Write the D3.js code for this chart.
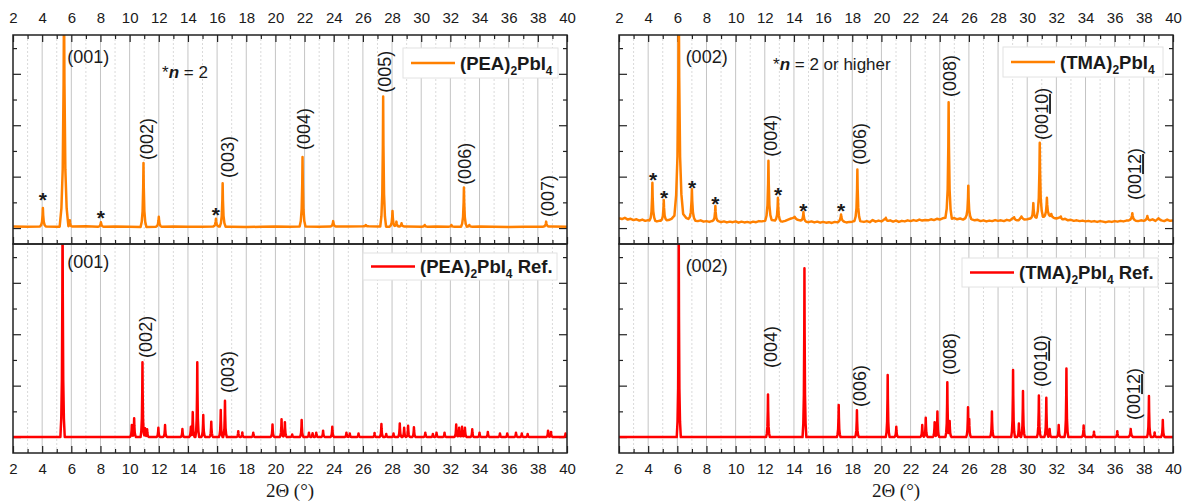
<!DOCTYPE html>
<html>
<head>
<meta charset="utf-8">
<script src="https://cdn.jsdelivr.net/npm/d3@7"></script>
<style>
body { margin: 0; background: #fff; }
svg text { font-family: Arial, "Liberation Sans", sans-serif; fill: #1a1a1a; }
svg text.serif { font-family: "Liberation Serif", "Times New Roman", serif; }
</style>
</head>
<body>
<svg id="chart" width="1185" height="501"></svg>
<script>
// peaks: [2theta, intensity (a.u.), optional half-width in 2theta]
var peaPeaks = [[4.05,0.78],[5.5,9,0.3],[5.9,0.3,0.15],[8.03,0.23],[10.95,2.53],[12.0,0.44],[15.92,0.36],
  [16.38,1.74],[21.86,2.76],[23.96,0.27],[26.2,0.12],[27.39,5.12],[28.03,0.66],[28.3,0.25],[28.65,0.19],
  [30.24,0.12],[32.07,0.12],[32.93,1.58],[33.3,0.12],[38.57,0.25]];
// baseline every 1 deg from 2 to 40
var peaBase = [0.06,0.05,0.06,0.05,0.06,0.07,0.05,0.06,0.05,0.04,0.05,0.06,0.05,0.05,0.06,0.05,0.04,0.05,0.06,0.05,
  0.06,0.05,0.06,0.06,0.07,0.06,0.05,0.06,0.05,0.06,0.05,0.05,0.06,0.05,0.04,0.05,0.05,0.06,0.05];

var peaRefPeaks = [[5.40,9,0.15],[10.15,0.47],[10.31,0.73],[10.88,2.91],[11.06,0.34],[11.2,0.3],[11.97,0.36],
  [12.43,0.47],[13.62,0.31],[14.2,0.4],[14.33,0.97],[14.64,2.91],[15.05,0.86],[15.6,0.6],[16.25,1.05],
  [16.54,1.41],[17.45,0.23],[17.73,0.18],[18.48,0.17],[19.8,0.49],[20.42,0.69],[20.65,0.58],[21.15,0.1],
  [21.8,0.66],[22.3,0.17],[22.55,0.15],[22.8,0.17],[23.27,0.25],[23.9,0.4],[24.87,0.17],[25.1,0.14],
  [25.7,0.14],[26.8,0.16],[27.27,0.51],[27.6,0.12],[28.1,0.14],[28.53,0.53],[28.83,0.36],[29.1,0.44],
  [29.5,0.38],[30.28,0.17],[30.8,0.12],[31.05,0.17],[31.6,0.17],[32.4,0.49],[32.6,0.36],[32.8,0.4],
  [33.0,0.36],[33.5,0.3],[34.0,0.17],[34.57,0.2],[35.4,0.14],[35.9,0.14],[36.5,0.17],[36.9,0.14],
  [37.3,0.12],[38.7,0.25],[38.9,0.2],[39.9,0.14]];

var tmaPeaks = [[4.29,1.76],[5.07,1.09],[6.1,9,0.3],[7.0,1.51,0.24],[8.61,0.86],[12.25,2.62,0.22],[12.9,1.18],
  [14.05,0.44],[14.65,0.62],[17.23,0.53,0.24],[18.35,2.28],[20.3,0.4],[24.61,4.89,0.22],[25.96,1.65],
  [29.1,0.42],[29.6,0.45],[30.42,0.97],[30.86,3.32,0.22],[31.35,1.18,0.22],[31.65,0.55],[32.3,0.45],
  [37.21,0.58,0.24],[38.24,0.47],[39.0,0.38]];
// noisy baseline every 0.2 deg from 2 to 40
var tmaBase = [
  0.38,0.35,0.40,0.33,0.36,0.31,0.34,0.29,0.33,0.28,
  0.31,0.27,0.30,0.26,0.29,0.27,0.30,0.31,0.36,0.48,
  0.70,0.70,0.55,0.40,0.34,0.31,0.29,0.27,0.30,0.25,
  0.27,0.24,0.28,0.25,0.27,0.23,0.26,0.22,0.25,0.23,
  0.26,0.21,0.25,0.22,0.24,0.21,0.25,0.23,0.27,0.26,
  0.28,0.30,0.32,0.30,0.29,0.27,0.25,0.28,0.33,0.37,
  0.40,0.33,0.30,0.28,0.25,0.23,0.26,0.22,0.25,0.21,
  0.24,0.21,0.23,0.20,0.24,0.22,0.26,0.25,0.22,0.24,
  0.25,0.28,0.30,0.26,0.24,0.27,0.23,0.31,0.25,0.29,
  0.26,0.33,0.27,0.30,0.25,0.29,0.24,0.28,0.26,0.30,
  0.27,0.31,0.28,0.33,0.29,0.31,0.30,0.34,0.31,0.36,
  0.33,0.38,0.40,0.38,0.36,0.39,0.34,0.37,0.33,0.40,
  0.40,0.34,0.30,0.32,0.27,0.30,0.26,0.29,0.27,0.31,
  0.28,0.30,0.27,0.32,0.29,0.38,0.31,0.30,0.40,0.33,
  0.34,0.37,0.36,0.40,0.45,0.45,0.43,0.48,0.45,0.40,
  0.37,0.41,0.33,0.36,0.30,0.32,0.28,0.30,0.27,0.29,
  0.26,0.28,0.25,0.27,0.24,0.27,0.25,0.23,0.26,0.24,
  0.27,0.25,0.28,0.26,0.29,0.30,0.32,0.29,0.27,0.30,
  0.28,0.32,0.30,0.34,0.28,0.36,0.30,0.27,0.33,0.28,
  0.29];

var tmaRefPeaks = [[6.1,7.6,0.14],[12.22,1.66],[14.72,6.57],[17.07,1.25],[18.32,1.04],[20.43,2.41],[21.02,0.4],
  [22.8,0.47],[23.04,0.75],[23.65,0.58],[23.84,0.99],[24.52,2.13],[24.68,0.62],[25.94,1.16],[26.02,0.7],
  [27.58,0.99],[29.03,2.61],[29.43,0.53],[29.71,1.79],[30.8,1.62],[31.31,1.53],[31.54,0.31],[32.16,0.47],
  [32.69,2.67],[33.87,0.45],[34.58,0.21],[36.18,0.23],[37.1,0.31,0.18],[38.35,1.6],[38.74,0.18],[39.3,0.66]];

// peak labels: [text, 2theta, intensity at text start]
var peaMarks = [['(002)',11.13,2.65],['(003)',16.68,1.95],['(004)',21.95,3.04],['(005)',27.5,5.26],['(006)',32.98,1.68],['(007)',38.67,0.43]];
var peaRefMarks = [['(002)',11.07,3.08],['(003)',16.74,1.71]];
var tmaMarks = [['(004)',12.4,2.77],['(006)',18.5,2.45],['(008)',24.68,5.1],['(0010)',30.99,3.43],['(0012)',37.37,1.09]];
var tmaRefMarks = [['(004)',12.4,2.69],['(006)',18.5,1.17],['(008)',24.68,2.41],['(0010)',30.93,1.95],['(0012)',37.3,0.66]];
var peaStars = [[4.05,1.29],[8.03,0.57],[15.92,0.70]];
var tmaStars = [[4.33,2.06],[5.09,1.35],[7.01,1.77],[8.61,1.12],[12.91,1.48],[14.65,0.87],[17.23,0.87]];

var thetaTicks = d3.range(2, 41, 2);
var thetaMinor = d3.range(3, 40, 2);
var yMajor = [0, 2, 4, 6], yMinor = [1, 3, 5, 7];

var orange = '#ff8000', red = '#ff0000', ink = '#222';
var svg = d3.select('#chart');
var yTop = d3.scaleLinear().domain([-0.62, 7.51]).range([244, 35]);
var yBot = d3.scaleLinear().domain([-0.62, 7.51]).range([453, 244]);

// peak outline (fraction of half-width -> fraction of height)
var profile = d3.scaleLinear().domain([0, 0.1, 0.3, 0.6, 1]).range([1, 0.62, 0.25, 0.08, 0]).clamp(true);

function buildSeries(peaks, base, step, defW) {
  var bx = base.map(function (v, i) { return [2 + i * step, v]; });
  var baseAt = d3.scaleLinear().domain(bx.map(function (d) { return d[0]; })).range(bx.map(function (d) { return d[1]; }));
  var xs = bx.map(function (d) { return d[0]; });
  peaks.forEach(function (p) {
    var w = p[2] || defW;
    [-1, -0.6, -0.3, -0.1, 0, 0.1, 0.3, 0.6, 1].forEach(function (s) { xs.push(p[0] + s * w); });
  });
  xs.sort(d3.ascending);
  return xs.filter(function (x) { return x >= 2 && x <= 40; }).map(function (x) {
    var b = baseAt(x), y = b;
    peaks.forEach(function (p) {
      var w = p[2] || defW, dx = Math.abs(x - p[0]) / w;
      if (dx < 1) y = Math.max(y, b + (p[1] - b) * profile(dx));
    });
    return [x, y];
  });
}

// vertical grid + axes for one column
function drawColumn(x, id) {
  var g = svg.append('g');
  thetaTicks.concat(thetaMinor).forEach(function (t) {
    if (t === 2 || t === 40) return;
    var odd = t % 2 === 1;
    g.append('line')
      .attr('x1', x(t)).attr('x2', x(t)).attr('y1', 35).attr('y2', 453)
      .attr('stroke', odd ? '#dadada' : '#c4c4c4')
      .attr('stroke-width', 1)
      .attr('stroke-dasharray', odd ? '2,2' : null);
  });

  [['top', yTop], ['bot', yBot]].forEach(function (pp) {
    var y = pp[1];
    svg.append('clipPath').attr('id', 'clip-' + id + pp[0])
      .append('rect').attr('x', x.range()[0]).attr('y', y.range()[1])
      .attr('width', x.range()[1] - x.range()[0]).attr('height', y.range()[0] - y.range()[1]);
  });

  function tidy(sel) {
    sel.select('.domain').remove();
    sel.selectAll('.tick line').attr('stroke', ink).attr('stroke-width', 1.2);
    sel.selectAll('.tick text').attr('font-size', 15).attr('fill', ink);
  }
  // top axis with labels
  g.append('g').attr('transform', 'translate(0,35)')
    .call(d3.axisTop(x).tickValues(thetaTicks).tickSize(-7).tickPadding(12)).call(tidy);
  g.append('g').attr('transform', 'translate(0,35)')
    .call(d3.axisTop(x).tickValues(thetaMinor).tickSize(-4).tickFormat('')).call(tidy);
  // middle axis
  g.append('g').attr('transform', 'translate(0,244)')
    .call(d3.axisBottom(x).tickValues(thetaTicks).tickSize(-7).tickFormat('')).call(tidy);
  g.append('g').attr('transform', 'translate(0,244)')
    .call(d3.axisBottom(x).tickValues(thetaMinor).tickSize(-4).tickFormat('')).call(tidy);
  // bottom axis with labels
  g.append('g').attr('transform', 'translate(0,453)')
    .call(d3.axisBottom(x).tickValues(thetaTicks).tickSize(-7).tickPadding(10)).call(tidy);
  g.append('g').attr('transform', 'translate(0,453)')
    .call(d3.axisBottom(x).tickValues(thetaMinor).tickSize(-4).tickFormat('')).call(tidy);

  [yTop, yBot].forEach(function (y) {
    g.append('g').attr('transform', 'translate(' + x.range()[0] + ',0)')
      .call(d3.axisLeft(y).tickValues(yMajor).tickSize(-8).tickFormat('')).call(tidy);
    g.append('g').attr('transform', 'translate(' + x.range()[0] + ',0)')
      .call(d3.axisLeft(y).tickValues(yMinor).tickSize(-4).tickFormat('')).call(tidy);
    g.append('g').attr('transform', 'translate(' + x.range()[1] + ',0)')
      .call(d3.axisRight(y).tickValues(yMajor).tickSize(-8).tickFormat('')).call(tidy);
    g.append('g').attr('transform', 'translate(' + x.range()[1] + ',0)')
      .call(d3.axisRight(y).tickValues(yMinor).tickSize(-4).tickFormat('')).call(tidy);
  });

  svg.append('text').attr('class', 'serif')
    .attr('x', (x.range()[0] + x.range()[1]) / 2).attr('y', 497)
    .attr('text-anchor', 'middle')
    .attr('font-size', 19)
    .text('2\u0398 (\u00b0)');
}

function drawSeries(x, y, data, color, clipId) {
  var line = d3.line().x(function (d) { return x(d[0]); }).y(function (d) { return y(d[1]); });
  svg.append('path').datum(data)
    .attr('clip-path', 'url(#' + clipId + ')')
    .attr('fill', 'none').attr('stroke', color).attr('stroke-width', 2.5)
    .attr('stroke-linejoin', 'round')
    .attr('d', line);
}

function drawFrame(x) {
  [[35, 244], [244, 453]].forEach(function (r) {
    svg.append('rect').attr('x', x.range()[0]).attr('y', r[0])
      .attr('width', x.range()[1] - x.range()[0]).attr('height', r[1] - r[0])
      .attr('fill', 'none').attr('stroke', ink).attr('stroke-width', 1.5);
  });
}

function rotatedMarks(x, y, marks) {
  marks.forEach(function (m) {
    var t = svg.append('text')
      .attr('transform', 'translate(' + x(m[1]) + ',' + y(m[2]) + ') rotate(-90)')
      .attr('dy', '0.36em').attr('font-size', 18);
    if (m[0].length > 5) {
      t.append('tspan').text('(00');
      t.append('tspan').style('text-decoration', 'underline').text(m[0].slice(3, -1));
      t.append('tspan').text(')');
    } else {
      t.text(m[0]);
    }
  });
}

function flatMark(x, y, th, u, label) {
  svg.append('text').attr('x', x(th)).attr('y', y(u)).attr('font-size', 18).text(label);
}

function stars(x, y, list) {
  list.forEach(function (s) {
    svg.append('text').attr('x', x(s[0])).attr('y', y(s[1]) + 12)
      .attr('text-anchor', 'middle').attr('font-size', 21).attr('font-weight', 'bold').text('*');
  });
}

function noteN(px, py, rest) {
  var t = svg.append('text').attr('x', px).attr('y', py).attr('font-size', 17);
  t.append('tspan').text('*');
  t.append('tspan').attr('font-weight', 'bold').attr('font-style', 'italic').text('n');
  t.append('tspan').text(rest);
}

function legend(box, color, name, ref) {
  // box: [x0, y0, x1, y1]
  svg.append('rect').attr('x', box[0]).attr('y', box[1])
    .attr('width', box[2] - box[0]).attr('height', box[3] - box[1])
    .attr('fill', '#fff').attr('stroke', '#e2e2e2').attr('stroke-width', 1);
  var cy = (box[1] + box[3]) / 2;
  svg.append('line').attr('x1', box[0] + 8).attr('x2', box[0] + 52)
    .attr('y1', cy).attr('y2', cy).attr('stroke', color).attr('stroke-width', 2.5);
  var t = svg.append('text').attr('x', box[0] + 57).attr('y', cy + 6.5)
    .attr('font-size', 18.5).attr('font-weight', 'bold');
  t.append('tspan').text('(' + name + ')');
  t.append('tspan').attr('font-size', 12).attr('dy', 5).text('2');
  t.append('tspan').attr('dy', -5).text('PbI');
  t.append('tspan').attr('font-size', 12).attr('dy', 5).text('4');
  if (ref) t.append('tspan').attr('dy', -5).text(' Ref.');
}

// ---- left column: (PEA)2PbI4 ----
var xL = d3.scaleLinear().domain([2, 40]).range([13, 567]);
drawColumn(xL, 'L');
drawSeries(xL, yTop, buildSeries(peaPeaks, peaBase, 1, 0.2), orange, 'clip-Ltop');
drawSeries(xL, yBot, buildSeries(peaRefPeaks, [0, 0], 38, 0.13), red, 'clip-Lbot');
drawFrame(xL);
flatMark(xL, yTop, 5.72, 6.42, '(001)');
flatMark(xL, yBot, 5.72, 6.57, '(001)');
rotatedMarks(xL, yTop, peaMarks);
rotatedMarks(xL, yBot, peaRefMarks);
stars(xL, yTop, peaStars);
noteN(162, 78, ' = 2');
legend([403, 48, 558, 78], orange, 'PEA', false);
legend([363, 253, 557, 280], red, 'PEA', true);

// ---- right column: (TMA)2PbI4 ----
var xR = d3.scaleLinear().domain([2, 40]).range([619, 1173]);
drawColumn(xR, 'R');
drawSeries(xR, yTop, buildSeries(tmaPeaks, tmaBase, 0.2, 0.2), orange, 'clip-Rtop');
drawSeries(xR, yBot, buildSeries(tmaRefPeaks, [0, 0], 38, 0.13), red, 'clip-Rbot');
drawFrame(xR);
flatMark(xR, yTop, 6.57, 6.42, '(002)');
flatMark(xR, yBot, 6.57, 6.43, '(002)');
rotatedMarks(xR, yTop, tmaMarks);
rotatedMarks(xR, yBot, tmaRefMarks);
stars(xR, yTop, tmaStars);
noteN(773, 70, ' = 2 or higher');
legend([1003, 47, 1163, 77], orange, 'TMA', false);
legend([962, 258, 1158, 287], red, 'TMA', true);
</script>
</body>
</html>
